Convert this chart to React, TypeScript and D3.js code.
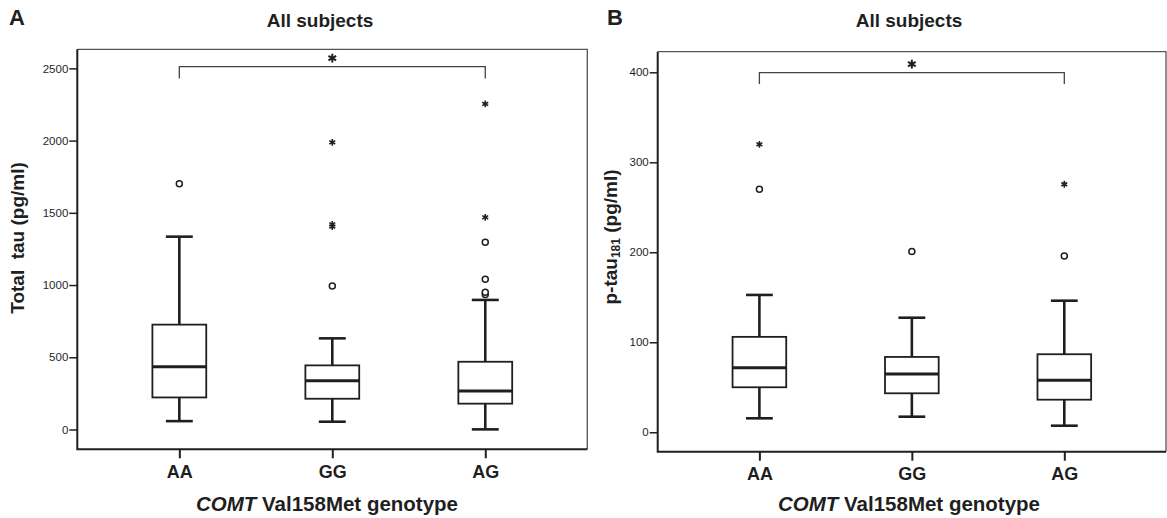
import React, { useEffect, useRef } from 'react';
import * as d3 from 'd3';

const genotypes = ['AA', 'GG', 'AG'];

// box stats per genotype: [lower whisker, Q1, median, Q3, upper whisker]
const totalTauBoxes = [
  [58, 222, 434, 726, 1335],
  [54, 213, 338, 444, 631],
  [1, 179, 267, 469, 897],
];
const totalTauCircles = [[1702], [993], [935, 950, 1040, 1296]];
const totalTauStars = [[], [1405, 1420, 1988], [1469, 2254]];
const totalTauTicks = [0, 500, 1000, 1500, 2000, 2500];

const pTauBoxes = [
  [15.5, 50, 71.8, 106, 152.6],
  [17.3, 43.3, 64.8, 83.7, 127.3],
  [7.3, 36.2, 57.8, 86.7, 146.2],
];
const pTauCircles = [[270], [201], [196]];
const pTauStars = [[320], [], [275.6]];
const pTauTicks = [0, 100, 200, 300, 400];

// significance bracket AA vs AG
const totalTauBracket = { from: 'AA', to: 'AG', top: 2512, foot: 2429 };
const pTauBracket = { from: 'AA', to: 'AG', top: 399.6, foot: 387 };

const FONT = '"Liberation Sans", Arial, Helvetica, sans-serif';
const INK = '#1f1f1f';

interface PanelConfig {
  letter: string;
  letterX: number;
  titleX: number;
  xTitleX: number;
  yLabelX: number;
  yLabelY: number;
  left: number;
  right: number;
  top: number;
  bottom: number;
  domain: [number, number];
  ticks: number[];
  boxes: number[][];
  circles: number[][];
  stars: number[][];
  bracket: { from: string; to: string; top: number; foot: number };
  yLabel: 'total' | 'ptau';
}

const panels: PanelConfig[] = [
  {
    letter: 'A', letterX: 9, titleX: 320, xTitleX: 327, yLabelX: 24, yLabelY: 238,
    left: 77.3, right: 587.3, top: 49.3, bottom: 449.3, domain: [-137, 2632],
    ticks: totalTauTicks, boxes: totalTauBoxes, circles: totalTauCircles,
    stars: totalTauStars, bracket: totalTauBracket, yLabel: 'total',
  },
  {
    letter: 'B', letterX: 607, titleX: 909, xTitleX: 909, yLabelX: 617, yLabelY: 237,
    left: 657.7, right: 1166, top: 51.7, bottom: 451.7, domain: [-21.6, 422.9],
    ticks: pTauTicks, boxes: pTauBoxes, circles: pTauCircles,
    stars: pTauStars, bracket: pTauBracket, yLabel: 'ptau',
  },
];

function drawPanel(root: d3.Selection<SVGSVGElement, unknown, null, undefined>, cfg: PanelConfig) {
  const g = root.append('g');

  const x = d3.scalePoint<string>().domain(genotypes).range([cfg.left, cfg.right]).padding(0.667);
  const y = d3.scaleLinear().domain(cfg.domain).range([cfg.bottom, cfg.top]);
  const boxW = x.step() * 0.352;
  const capW = boxW / 2;

  // header texts
  g.append('text')
    .attr('x', cfg.letterX).attr('y', 25)
    .attr('font-size', 22).attr('font-weight', 'bold').attr('fill', INK)
    .text(cfg.letter);
  g.append('text')
    .attr('x', cfg.titleX).attr('y', 27).attr('text-anchor', 'middle')
    .attr('font-size', 19).attr('font-weight', 'bold').attr('fill', INK)
    .text('All subjects');

  // frame: thin top/right, heavier axis lines
  g.append('path')
    .attr('d', `M${cfg.left},${cfg.top}H${cfg.right}V${cfg.bottom}`)
    .attr('fill', 'none').attr('stroke', '#555').attr('stroke-width', 1.3);
  g.append('path')
    .attr('d', `M${cfg.left},${cfg.top}V${cfg.bottom}H${cfg.right}`)
    .attr('fill', 'none').attr('stroke', INK).attr('stroke-width', 2);

  // y axis
  const yAxis = d3.axisLeft(y)
    .tickValues(cfg.ticks)
    .tickFormat(d3.format('d'))
    .tickSize(8)
    .tickSizeOuter(0)
    .tickPadding(1);
  const ya = g.append('g').attr('transform', `translate(${cfg.left},0)`).call(yAxis);
  ya.select('.domain').remove();
  ya.attr('color', INK).attr('font-family', FONT).attr('font-size', 11.5);
  ya.selectAll('line').attr('stroke-width', 1.5);

  // x axis
  const xAxis = d3.axisBottom(x).tickSize(9).tickSizeOuter(0).tickPadding(7);
  const xa = g.append('g').attr('transform', `translate(0,${cfg.bottom})`).call(xAxis);
  xa.select('.domain').remove();
  xa.attr('color', INK).attr('font-family', FONT).attr('font-size', 18).attr('font-weight', 'bold');
  xa.selectAll('line').attr('stroke-width', 2);

  // axis titles
  const xt = g.append('text')
    .attr('x', cfg.xTitleX).attr('y', 511).attr('text-anchor', 'middle')
    .attr('font-size', 20.5).attr('font-weight', 'bold').attr('fill', INK);
  xt.append('tspan').attr('font-style', 'italic').text('COMT');
  xt.append('tspan').text(' Val158Met genotype');

  const yt = g.append('text')
    .attr('transform', `translate(${cfg.yLabelX},${cfg.yLabelY}) rotate(-90)`)
    .attr('text-anchor', 'middle')
    .attr('font-size', 19).attr('font-weight', 'bold').attr('fill', INK);
  if (cfg.yLabel === 'total') {
    yt.text('Total  tau (pg/ml)').attr('xml:space', 'preserve').style('white-space', 'pre');
  } else {
    yt.append('tspan').text('p-tau');
    yt.append('tspan').attr('font-size', 12).attr('dy', 3).text('181');
    yt.append('tspan').attr('dy', -3).text(' (pg/ml)');
  }

  // boxes
  const groups = g.selectAll('.box')
    .data(cfg.boxes)
    .enter()
    .append('g')
    .attr('class', 'box')
    .attr('transform', (_, i) => `translate(${x(genotypes[i])},0)`);

  groups.append('line')
    .attr('y1', (d) => y(d[0])).attr('y2', (d) => y(d[1]))
    .attr('stroke', INK).attr('stroke-width', 2.6);
  groups.append('line')
    .attr('y1', (d) => y(d[3])).attr('y2', (d) => y(d[4]))
    .attr('stroke', INK).attr('stroke-width', 2.6);
  groups.append('line')
    .attr('x1', -capW / 2).attr('x2', capW / 2)
    .attr('y1', (d) => y(d[0])).attr('y2', (d) => y(d[0]))
    .attr('stroke', INK).attr('stroke-width', 2.6);
  groups.append('line')
    .attr('x1', -capW / 2).attr('x2', capW / 2)
    .attr('y1', (d) => y(d[4])).attr('y2', (d) => y(d[4]))
    .attr('stroke', INK).attr('stroke-width', 2.6);
  groups.append('rect')
    .attr('x', -boxW / 2).attr('width', boxW)
    .attr('y', (d) => y(d[3])).attr('height', (d) => y(d[1]) - y(d[3]))
    .attr('fill', 'white').attr('stroke', INK).attr('stroke-width', 1.8);
  groups.append('line')
    .attr('x1', -boxW / 2).attr('x2', boxW / 2)
    .attr('y1', (d) => y(d[2])).attr('y2', (d) => y(d[2]))
    .attr('stroke', INK).attr('stroke-width', 3);

  // outliers
  cfg.circles.forEach((vals, i) => {
    g.selectAll(null)
      .data(vals)
      .enter()
      .append('circle')
      .attr('cx', x(genotypes[i])!)
      .attr('cy', (v) => y(v))
      .attr('r', 3)
      .attr('fill', 'white').attr('stroke', INK).attr('stroke-width', 1.5);
  });
  const star = d3.symbol().type(d3.symbolAsterisk).size(32);
  cfg.stars.forEach((vals, i) => {
    g.selectAll(null)
      .data(vals)
      .enter()
      .append('path')
      .attr('d', star()!)
      .attr('transform', (v) => `translate(${x(genotypes[i])},${y(v)})`)
      .attr('fill', 'none').attr('stroke', INK).attr('stroke-width', 1.6);
  });

  // significance bracket
  const b = cfg.bracket;
  const bx1 = x(b.from)!;
  const bx2 = x(b.to)!;
  g.append('path')
    .attr('d', `M${bx1},${y(b.foot)}V${y(b.top)}H${bx2}V${y(b.foot)}`)
    .attr('fill', 'none').attr('stroke', '#444').attr('stroke-width', 1.3);
  g.append('path')
    .attr('d', d3.symbol().type(d3.symbolAsterisk).size(55)()!)
    .attr('transform', `translate(${(bx1 + bx2) / 2},${y(b.top) - 8.5})`)
    .attr('fill', 'none').attr('stroke', INK).attr('stroke-width', 2);
}

const App: React.FC = () => {
  const chartRef = useRef<SVGSVGElement | null>(null);

  useEffect(() => {
    const svg = d3.select(chartRef.current!);
    svg.selectAll('*').remove();
    panels.forEach((p) => drawPanel(svg, p));
  }, []);

  return (
    <svg
      ref={chartRef}
      width={1167}
      height={518}
      style={{ position: 'absolute', left: 0, top: 0, background: 'white', fontFamily: FONT }}
      fontFamily={FONT}
    ></svg>
  );
};

export default App;
